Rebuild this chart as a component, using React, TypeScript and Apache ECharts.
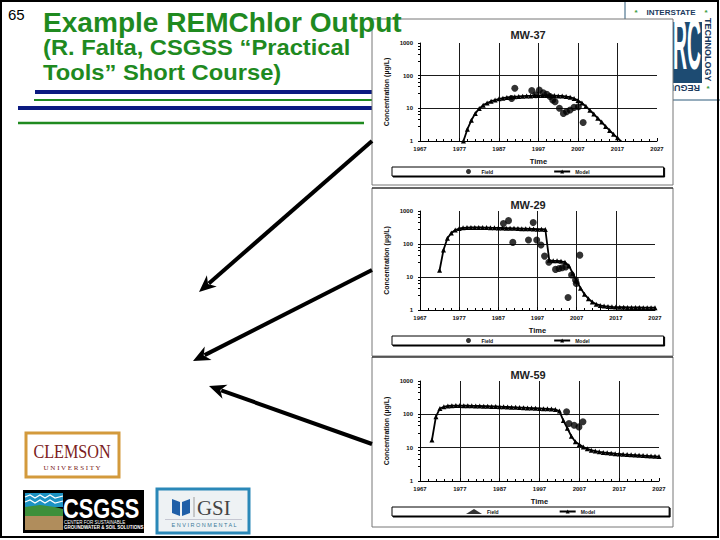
import React, { useEffect, useRef } from "react";
import * as echarts from "echarts";

// ---------- data ----------
const BASE_YEAR = 1967;
const xTickYears = [1967, 1977, 1987, 1997, 2007, 2017, 2027];
const yTickValues = [1, 10, 100, 1000];
const chartTitles = ["MW-37", "MW-29", "MW-59"];
const fieldName = "Field";
const modelName = "Model";

// MW-37 model, yearly from 1978
const mw37ModelStart = 1978;
const mw37Model = [1.0, 2.3, 4.3, 7, 9.8, 12.5, 14.5, 16.5, 18, 19.5, 20.5, 21.5, 22, 22.5, 23, 23.5, 24, 24, 24.5, 24.5, 24.5, 24.5, 24.5, 24.5, 24, 24, 23, 22, 20, 17.5, 14.5, 11.5, 8.8, 6.7, 5.0, 3.8, 2.8, 2.1, 1.6, 1.25, 0.95];
const mw37FieldYears = [1990.2, 1991.0, 1995.3, 1996.3, 1997.2, 1998.2, 1999.1, 1999.9, 2000.6, 2001.2, 2002.3, 2003.3, 2004.1, 2005.0, 2006.0, 2007.1, 2008.3];
const mw37Field = [20, 41, 35, 26, 36, 30, 27, 23, 18, 16, 10, 7, 7.9, 8.9, 10.7, 11.2, 3.7];

// MW-29 model, yearly from 1972
const mw29ModelStart = 1972;
const mw29Model = [16, 66, 150, 215, 265, 295, 310, 315, 318, 318, 318, 316, 315, 312, 310, 308, 305, 302, 300, 298, 295, 292, 290, 288, 285, 282, 280, 275, 32, 31, 31, 30, 28, 22, 13, 7.5, 4.6, 3, 2.2, 1.75, 1.5, 1.38, 1.32, 1.28, 1.25, 1.23, 1.22, 1.21, 1.2, 1.2, 1.19, 1.19, 1.18, 1.18, 1.18, 1.18];
const mw29FieldYears = [1988.3, 1989.6, 1990.7, 1994.7, 1995.9, 1996.8, 1997.9, 1998.8, 1999.9, 2001.6, 2002.5, 2003.3, 2004.2, 2004.8, 2005.7, 2006.7, 2006.9, 2007.8];
const mw29Field = [420, 510, 112, 132, 450, 132, 93, 43, 28, 17, 18, 19, 20, 2.4, 11.5, 8.1, 6.4, 46];

// MW-59 model, yearly from 1970
const mw59ModelStart = 1970;
const mw59Model = [17, 85, 150, 168, 178, 182, 183, 183, 182, 181, 180, 179, 178, 176, 175, 173, 172, 170, 168, 166, 164, 162, 160, 158, 156, 154, 152, 150, 148, 146, 144, 140, 125, 65, 38, 22, 15, 12.5, 10.5, 9.2, 8.4, 7.9, 7.5, 7.2, 7.0, 6.8, 6.6, 6.5, 6.3, 6.2, 6.1, 6.0, 5.9, 5.8, 5.7, 5.6, 5.5, 5.4];
const mw59FieldYears = [2003.8, 2004.4, 2005.7, 2006.9, 2007.9];
const mw59Field = [120, 53, 47, 42, 60];

// ---------- layout ----------
const panels = [
  { panelY: 19, panelH: 166, titleTop: 24, gridTop: 43, gridH: 98, gridW: 237, legendTop: 167 },
  { panelY: 188, panelH: 168, titleTop: 194, gridTop: 211, gridH: 99, gridW: 235, legendTop: 336 },
  { panelY: 357, panelH: 170, titleTop: 364, gridTop: 381, gridH: 100, gridW: 239, legendTop: 507 },
];

const GREEN = "#1f8a1f";
const NAVY = "#0b1a80";
const FONT = "Liberation Sans";

// place text by its baseline, using a middle anchor (central ~0.35em above baseline)
function baseY(baseline: number, size: number) {
  return baseline - 0.35 * size;
}

function arrow(x1: number, y1: number, x2: number, y2: number) {
  const dx = x2 - x1, dy = y2 - y1;
  const len = Math.hypot(dx, dy);
  const ux = dx / len, uy = dy / len;
  const hl = 17, hw = 7.5;
  const bx = x2 - ux * hl, by = y2 - uy * hl;
  return [
    { type: "line", z: 20, shape: { x1, y1, x2: bx + ux * 4, y2: by + uy * 4 }, style: { stroke: "#000", lineWidth: 4 } },
    {
      type: "polygon", z: 20,
      shape: { points: [[x2, y2], [bx - uy * hw, by + ux * hw], [bx + ux * 5, by + uy * 5], [bx + uy * hw, by - ux * hw]] },
      style: { fill: "#000" },
    },
  ];
}

function txt(x: number, baseline: number, text: string, size: number, fill: string, opts: any = {}) {
  const { weight = "normal", family = FONT, align = "left", scaleX = 1, z = 30, rotation = 0 } = opts;
  return {
    type: "text", z, x, y: baseY(baseline, size), scaleX, rotation,
    style: { text, fill, font: `${weight} ${size}px ${family}`, textAlign: align, textVerticalAlign: "middle" },
  };
}

function buildOption() {
  const models = [
    { start: mw37ModelStart, vals: mw37Model },
    { start: mw29ModelStart, vals: mw29Model },
    { start: mw59ModelStart, vals: mw59Model },
  ];
  const fields = [
    { yrs: mw37FieldYears, vals: mw37Field },
    { yrs: mw29FieldYears, vals: mw29Field },
    { yrs: mw59FieldYears, vals: mw59Field },
  ];

  const grid: any[] = [], xAxis: any[] = [], yAxis: any[] = [], series: any[] = [], legend: any[] = [], title: any[] = [];
  const axisText = { fontSize: 6, fontWeight: "bold", color: "#111", fontFamily: FONT };
  const split = { show: true, showMinLine: false, showMaxLine: false, lineStyle: { color: "#1a1a1a", width: 1 } };

  panels.forEach((p, i) => {
    grid.push({ left: 420, top: p.gridTop, width: p.gridW, height: p.gridH, containLabel: false });
    xAxis.push({
      gridIndex: i, type: "value", min: 0, max: xTickYears[xTickYears.length - 1] - BASE_YEAR, interval: 10,
      axisLine: { lineStyle: { color: "#000", width: 1 } },
      axisTick: { show: true, inside: true, length: 3, lineStyle: { color: "#000" } },
      minorTick: { show: true, splitNumber: 5, length: 2, lineStyle: { color: "#000" } },
      axisLabel: { ...axisText, margin: 5, formatter: (v: number) => String(Math.round(v) + BASE_YEAR) },
      splitLine: split,
      name: "Time", nameLocation: "middle", nameGap: 16,
      nameTextStyle: { fontSize: 7.5, fontWeight: "bold", color: "#111", fontFamily: FONT },
    });
    yAxis.push({
      gridIndex: i, type: "log", logBase: 10, min: yTickValues[0], max: yTickValues[yTickValues.length - 1],
      axisLine: { show: true, lineStyle: { color: "#000", width: 1 } },
      axisTick: { show: true, inside: false, length: 2, lineStyle: { color: "#000" } },
      minorTick: { show: true, splitNumber: 5, length: 2, lineStyle: { color: "#000" } },
      axisLabel: { ...axisText, margin: 7, formatter: (v: number) => String(Math.round(v)) },
      splitLine: split,
      name: "Concentration (µg/L)", nameLocation: "middle", nameGap: 30,
      nameTextStyle: { fontSize: 7, fontWeight: "bold", color: "#111", fontFamily: FONT },
    });
    series.push({
      name: modelName, type: "line", xAxisIndex: i, yAxisIndex: i, clip: true,
      data: models[i].vals.map((v, j) => [models[i].start + j - BASE_YEAR, v]),
      symbol: "triangle", symbolSize: 5, showSymbol: true,
      lineStyle: { color: "#000", width: 1.8 }, itemStyle: { color: "#000" },
    });
    series.push({
      name: fieldName, type: "scatter", xAxisIndex: i, yAxisIndex: i, clip: true,
      data: fields[i].yrs.map((y, j) => [y - BASE_YEAR, fields[i].vals[j]]),
      symbol: "circle", symbolSize: 7, itemStyle: { color: "#000" },
    });
    legend.push({
      left: 392, top: p.legendTop, orient: "horizontal",
      data: [{ name: fieldName, icon: i === 2 ? "triangle" : "circle" }, { name: modelName }],
      itemGap: 60, itemWidth: 16, itemHeight: 5,
      padding: [2, 74, 2, 74],
      borderColor: "#000", borderWidth: 1,
      shadowColor: "#000", shadowOffsetX: 1, shadowOffsetY: 1, shadowBlur: 0,
      backgroundColor: "#fff",
      selectedMode: false,
      textStyle: { fontSize: 5, fontWeight: "bold", color: "#111", fontFamily: FONT },
    });
    title.push({
      text: chartTitles[i], left: 523, top: p.titleTop, textAlign: "center",
      textStyle: { fontSize: 11, fontWeight: "bold", color: "#222", fontFamily: FONT },
    });
  });

  const graphics: any[] = [];

  // ITRC logo (top-right, partially behind panel)
  graphics.push(
    { type: "rect", z: -30, shape: { x: 625, y: -2, width: 96, height: 102 }, style: { fill: "#fff", stroke: "#2c5a7a", lineWidth: 1 } },
    { type: "rect", z: -25, shape: { x: 660, y: 22, width: 42, height: 61 }, style: { fill: "#1d4b72" } },
    { type: "text", z: -24, x: 701, y: 80, scaleX: 0.27, style: { text: "ITRC", fill: "#fff", font: `bold 72px ${FONT}`, textAlign: "right", textVerticalAlign: "bottom" } },
    { type: "text", z: -24, x: 671, y: 12, style: { text: "INTERSTATE", fill: "#1c3a5e", font: `bold 8px ${FONT}`, textAlign: "center", textVerticalAlign: "middle" } },
    { type: "text", z: -24, x: 636, y: 12, style: { text: "*", fill: "#3a9a3a", font: `bold 8px ${FONT}`, textAlign: "center", textVerticalAlign: "middle" } },
    { type: "text", z: -24, x: 706, y: 12, style: { text: "*", fill: "#3a9a3a", font: `bold 8px ${FONT}`, textAlign: "center", textVerticalAlign: "middle" } },
    { type: "text", z: -24, x: 708, y: 18, rotation: -Math.PI / 2, style: { text: "TECHNOLOGY", fill: "#1c3a5e", font: `bold 9px ${FONT}`, textAlign: "left", textVerticalAlign: "middle" } },
    { type: "text", z: -24, x: 708, y: 88, style: { text: "*", fill: "#3a9a3a", font: `bold 8px ${FONT}`, textAlign: "center", textVerticalAlign: "middle" } },
    { type: "text", z: -24, x: 700, y: 88, rotation: Math.PI, style: { text: "REGULATORY", fill: "#1c3a5e", font: `bold 9px ${FONT}`, textAlign: "left", textVerticalAlign: "middle" } },
  );

  // decorative header lines
  graphics.push(
    { type: "line", z: -28, shape: { x1: 35, y1: 92, x2: 372, y2: 92 }, style: { stroke: NAVY, lineWidth: 4 } },
    { type: "line", z: -28, shape: { x1: 34, y1: 100, x2: 372, y2: 100 }, style: { stroke: GREEN, lineWidth: 2 } },
    { type: "line", z: -28, shape: { x1: 18, y1: 108, x2: 372, y2: 108 }, style: { stroke: NAVY, lineWidth: 4 } },
    { type: "line", z: -28, shape: { x1: 18, y1: 123, x2: 364, y2: 123 }, style: { stroke: GREEN, lineWidth: 2.5 } },
  );

  // chart panels
  panels.forEach((p) => {
    graphics.push({ type: "rect", z: -10, shape: { x: 372, y: p.panelY, width: 301, height: p.panelH }, style: { fill: "#fff", stroke: "#777", lineWidth: 1 } });
  });
  graphics.push(
    { type: "line", z: -9, shape: { x1: 372, y1: 188, x2: 673, y2: 188 }, style: { stroke: "#111", lineWidth: 1 } },
    { type: "line", z: -9, shape: { x1: 372, y1: 357, x2: 673, y2: 357 }, style: { stroke: "#111", lineWidth: 1 } },
  );

  // slide number and titles
  graphics.push(
    txt(8, 20, "65", 15, "#000"),
    txt(43, 32, "Example REMChlor Output", 27, GREEN, { weight: "bold", scaleX: 1.04 }),
    txt(43, 55, "(R. Falta, CSGSS “Practical", 22, GREEN, { weight: "bold", scaleX: 1.08 }),
    txt(43, 80, "Tools” Short Course)", 22, GREEN, { weight: "bold", scaleX: 1.08 }),
  );

  // arrows
  graphics.push(...arrow(372, 141, 199, 292), ...arrow(372, 270, 193, 361), ...arrow(372, 444, 209, 386));

  // Clemson logo
  graphics.push(
    { type: "rect", z: 5, shape: { x: 26, y: 433, width: 93, height: 44 }, style: { fill: "#fff", stroke: "#d39a3c", lineWidth: 3 } },
    txt(72, 458, "CLEMSON", 19, "#7b2020", { family: "Liberation Serif", align: "center", scaleX: 0.85, z: 6 }),
    txt(72, 470, "U N I V E R S I T Y", 7, "#7b2020", { family: "Liberation Serif", align: "center", z: 6 }),
  );

  // CSGSS logo
  graphics.push(
    { type: "rect", z: 5, shape: { x: 23, y: 490, width: 121, height: 43 }, style: { fill: "#000" } },
    { type: "rect", z: 6, shape: { x: 25, y: 493, width: 38, height: 14 }, style: { fill: "#1c93c4" } },
    { type: "polyline", z: 7, shape: { points: [[25, 497], [30, 495], [35, 498], [40, 495], [45, 498], [50, 495], [55, 498], [63, 496]] }, style: { stroke: "#fff", lineWidth: 1.2, fill: null } },
    { type: "polyline", z: 7, shape: { points: [[25, 502], [30, 500], [35, 503], [40, 500], [45, 503], [50, 500], [55, 503], [63, 501]] }, style: { stroke: "#fff", lineWidth: 1.2, fill: null } },
    { type: "polygon", z: 6, shape: { points: [[25, 507], [40, 505], [55, 507], [63, 509], [63, 516], [25, 516]] }, style: { fill: "#3d8f3a" } },
    { type: "rect", z: 6, shape: { x: 25, y: 516, width: 38, height: 14 }, style: { fill: "#b08d5c" } },
    txt(63, 518, "CSGSS", 28, "#fff", { weight: "bold", scaleX: 0.78, z: 7 }),
    txt(64, 524, "CENTER FOR SUSTAINABLE", 4.5, "#fff", { z: 7 }),
    txt(64, 529, "GROUNDWATER & SOIL SOLUTIONS", 4.5, "#fff", { weight: "bold", z: 7 }),
  );

  // GSI logo
  graphics.push(
    { type: "rect", z: 5, shape: { x: 157, y: 489, width: 92, height: 44 }, style: { fill: "#eef2f4", stroke: "#2a88b8", lineWidth: 3 } },
    { type: "polygon", z: 6, shape: { points: [[172, 499], [180, 502], [180, 516], [172, 513]] }, style: { fill: "#1f5fa8" } },
    { type: "polygon", z: 6, shape: { points: [[182, 502], [190, 499], [190, 513], [182, 516]] }, style: { fill: "#1f5fa8" } },
    { type: "line", z: 6, shape: { x1: 194, y1: 497, x2: 194, y2: 517 }, style: { stroke: "#888", lineWidth: 0.8 } },
    txt(197, 516, "GSI", 22, "#444", { family: "Liberation Serif", scaleX: 0.95, z: 6 }),
    { type: "line", z: 6, shape: { x1: 165, y1: 519.5, x2: 242, y2: 519.5 }, style: { stroke: "#aab", lineWidth: 0.6 } },
    txt(204, 527, "E N V I R O N M E N T A L", 5.5, "#3a7a9a", { align: "center", z: 6 }),
  );

  // slide border
  graphics.push({ type: "rect", z: 100, shape: { x: 1, y: 1, width: 717, height: 536 }, style: { fill: null, stroke: "#000", lineWidth: 2 } });

  return {
    animation: false,
    backgroundColor: "#fff",
    textStyle: { fontFamily: FONT },
    title, grid, xAxis, yAxis, series, legend,
    graphic: { elements: graphics },
  };
}

export default function App() {
  const ref = useRef<HTMLDivElement>(null);
  useEffect(() => {
    if (!ref.current) return;
    const chart = echarts.init(ref.current, undefined, { renderer: "svg" });
    chart.setOption(buildOption() as any);
    return () => chart.dispose();
  }, []);
  return <div ref={ref} style={{ position: "fixed", left: 0, top: 0, width: 720, height: 540, background: "#fff" }} />;
}
